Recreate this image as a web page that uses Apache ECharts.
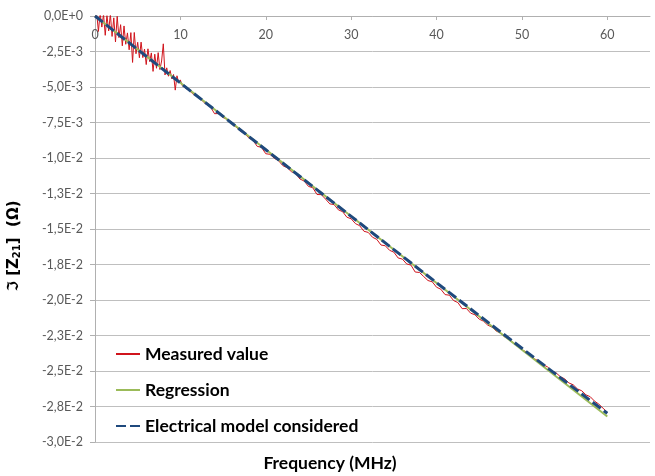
<!DOCTYPE html>
<html>
<head>
<meta charset="utf-8">
<script src="https://cdn.jsdelivr.net/npm/echarts@6/dist/echarts.min.js"></script>
<style>
html,body{margin:0;padding:0;background:#fff;}
#chart{width:655px;height:476px;}
</style>
</head>
<body>
<div id="chart"></div>
<script>
// ---- data (frequency in MHz, imaginary part of Z21 in ohm) ----
var seriesNames = ['Measured value', 'Regression', 'Electrical model considered'];

var measured = [
[0.0,-0.00005],[0.2,0.00020],[0.4,-0.00109],[0.6,0.00022],[0.8,-0.00078],[1.0,0.00013],
[1.2,-0.00136],[1.4,0.00004],[1.6,-0.00105],[1.8,0.00015],[2.0,-0.00144],[2.2,-0.00013],
[2.4,-0.00183],[2.6,-0.00002],[2.8,-0.00152],[3.0,-0.00061],[3.2,-0.00210],[3.4,-0.00070],
[3.6,-0.00199],[3.8,-0.00119],[4.0,-0.00238],[4.2,-0.00117],[4.4,-0.00327],[4.6,-0.00116],
[4.8,-0.00266],[5.0,-0.00185],[5.2,-0.00294],[5.4,-0.00184],[5.6,-0.00293],[5.8,-0.00233],
[6.0,-0.00342],[6.2,-0.00231],[6.4,-0.00321],[6.6,-0.00260],[6.8,-0.00390],[7.0,-0.00269],
[7.2,-0.00368],[7.4,-0.00258],[7.6,-0.00377],[7.8,-0.00317],[8.0,-0.00196],[8.2,-0.00415],
[8.4,-0.00365],[8.6,-0.00424],[8.8,-0.00384],[9.0,-0.00443],[9.2,-0.00412],[9.4,-0.00522],
[9.6,-0.00421],[9.8,-0.00471],[10.0,-0.00450],[10.2,-0.00489],[10.4,-0.00479],[10.6,-0.00508],
[10.8,-0.00498],[11.0,-0.00522],[11.2,-0.00526],[11.4,-0.00546],[11.6,-0.00545],[11.8,-0.00560],
[12.0,-0.00564],[12.5,-0.00593],[13.0,-0.00621],[13.5,-0.00637],[14.0,-0.00688],[14.5,-0.00687],
[15.0,-0.00715],[15.5,-0.00729],[16.0,-0.00760],[16.5,-0.00781],[17.0,-0.00809],[17.5,-0.00826],
[18.0,-0.00858],[18.5,-0.00875],[19.0,-0.00918],[19.5,-0.00925],[20.0,-0.00970],[20.5,-0.00974],
[21.0,-0.01002],[21.5,-0.01019],[22.0,-0.01054],[22.5,-0.01068],[23.0,-0.01096],[23.5,-0.01110],
[24.0,-0.01148],[24.5,-0.01162],[25.0,-0.01200],[25.5,-0.01209],[26.0,-0.01257],[26.5,-0.01258],
[27.0,-0.01289],[27.5,-0.01323],[28.0,-0.01328],[28.5,-0.01365],[29.0,-0.01378],[29.5,-0.01417],
[30.0,-0.01428],[30.5,-0.01462],[31.0,-0.01477],[31.5,-0.01516],[32.0,-0.01524],[32.5,-0.01558],
[33.0,-0.01573],[33.5,-0.01613],[34.0,-0.01618],[34.5,-0.01650],[35.0,-0.01663],[35.5,-0.01704],
[36.0,-0.01712],[36.5,-0.01746],[37.0,-0.01754],[37.5,-0.01803],[38.0,-0.01806],[38.5,-0.01835],
[39.0,-0.01863],[39.5,-0.01872],[40.0,-0.01910],[40.5,-0.01924],[41.0,-0.01962],[41.5,-0.01966],
[42.0,-0.02004],[42.5,-0.02018],[43.0,-0.02061],[43.5,-0.02060],[44.0,-0.02093],[44.5,-0.02104],
[45.0,-0.02135],[45.5,-0.02149],[46.0,-0.02177],[46.5,-0.02191],[47.0,-0.02219],[47.5,-0.02233],
[48.0,-0.02261],[48.5,-0.02275],[49.0,-0.02303],[49.5,-0.02322],[50.0,-0.02350],[50.5,-0.02366],
[51.0,-0.02387],[51.5,-0.02416],[52.0,-0.02429],[52.5,-0.02456],[53.0,-0.02471],[53.5,-0.02500],
[54.0,-0.02513],[54.5,-0.02540],[55.0,-0.02555],[55.5,-0.02584],[56.0,-0.02597],[56.5,-0.02626],
[57.0,-0.02639],[57.5,-0.02668],[58.0,-0.02681],[58.5,-0.02712],[59.0,-0.02733],[59.5,-0.02762],
[60.0,-0.02790]
];

var regression = [[0,0],[60,-0.0282]];

var model = [
[0,0],[5,-0.00236],[10,-0.00472],[15,-0.00707],[20,-0.00942],[25,-0.01177],[30,-0.01411],
[35,-0.01645],[40,-0.01878],[45,-0.02110],[50,-0.02340],[55,-0.02570],[60,-0.02798]
];

var xTickValues = [0,10,20,30,40,50,60];
var yTickValues = [0,-0.0025,-0.005,-0.0075,-0.01,-0.0125,-0.015,-0.0175,-0.02,-0.0225,-0.025,-0.0275,-0.03];
var yTickLabels = ['0,0E+0','-2,5E-3','-5,0E-3','-7,5E-3','-1,0E-2','-1,3E-2','-1,5E-2','-1,8E-2','-2,0E-2','-2,3E-2','-2,5E-2','-2,8E-2','-3,0E-2'];

var chart = echarts.init(document.getElementById('chart'), null, {renderer:'canvas'});
var labelFont = 'Lato';
var option = {
  animation:false,
  backgroundColor:'#ffffff',
  grid:{left:95,right:5,top:16,bottom:34,containLabel:false},
  legend:{
    orient:'vertical', left:110, top:340,
    itemWidth:24, itemHeight:14, itemGap:18,
    itemStyle:{opacity:0,borderWidth:0},
    textStyle:{fontFamily:labelFont,fontSize:17.5,fontWeight:'bold',color:'#000'},
    data:seriesNames
  },
  xAxis:{
    type:'value', position:'top', min:0, max:65,
    axisLine:{show:true,onZero:false,lineStyle:{color:'#b0b0b0',width:1}},
    axisTick:{show:true,inside:true,length:4,customValues:xTickValues,lineStyle:{color:'#b0b0b0'}},
    axisLabel:{show:true,inside:true,margin:12,customValues:xTickValues,color:'#595959',fontFamily:labelFont,fontSize:12.5},
    splitLine:{show:false}
  },
  yAxis:{
    type:'value', min:-0.03, max:0, interval:0.0025,
    axisLine:{show:true,lineStyle:{color:'#b0b0b0',width:1}},
    axisTick:{show:true,length:5,lineStyle:{color:'#b0b0b0'}},
    axisLabel:{margin:12,color:'#595959',fontFamily:labelFont,fontSize:12.5,
      formatter:function(v){
        for(var i=0;i<yTickValues.length;i++){ if(Math.abs(yTickValues[i]-v)<1e-9) return yTickLabels[i]; }
        return '';
      }},
    splitLine:{show:true,lineStyle:{color:'#bfbfbf',width:1}}
  },
  series:[
    {name:seriesNames[0],type:'line',data:measured,symbol:'none',showSymbol:false,
     lineStyle:{color:'#d0141c',width:1},itemStyle:{color:'#d0141c'},z:2},
    {name:seriesNames[1],type:'line',data:regression,symbol:'none',showSymbol:false,
     lineStyle:{color:'#9bbb59',width:2},itemStyle:{color:'#9bbb59'},z:3},
    {name:seriesNames[2],type:'line',data:model,symbol:'none',showSymbol:false,
     lineStyle:{color:'#1f497d',width:3,type:[10,4]},itemStyle:{color:'#1f497d'},z:4}
  ],
  graphic:[
    {type:'text',x:330,y:463,
     style:{text:'Frequency (MHz)',align:'center',verticalAlign:'middle',fontFamily:labelFont,fontSize:17.5,fontWeight:'bold',fill:'#000'}},
    {type:'text',x:14,y:246,rotation:Math.PI/2,
     style:{text:'{a|\u2111 [Z}{s|21}{a|]  (\u03A9)}',align:'center',verticalAlign:'middle',
       rich:{a:{fontFamily:'DejaVu Sans',fontSize:15,fontWeight:'bold',fill:'#000'},
             s:{fontFamily:'DejaVu Sans',fontSize:10,fontWeight:'bold',fill:'#000',verticalAlign:'bottom',padding:[6,0,0,0]}}}}
  ]
};
chart.setOption(option);
</script>
</body>
</html>
